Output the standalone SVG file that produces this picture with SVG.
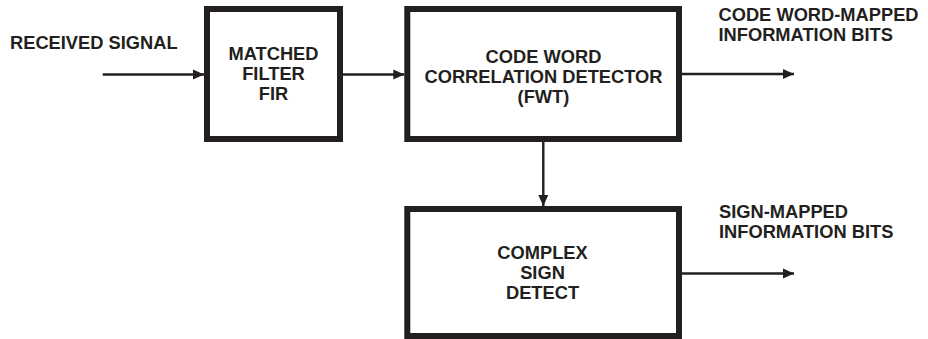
<svg xmlns="http://www.w3.org/2000/svg" width="928" height="339" viewBox="0 0 928 339">
<defs>
<style>
.box{fill:#ffffff;stroke:#231f20;stroke-width:6;}
.t{font-family:"Liberation Sans",Arial,Helvetica,sans-serif;font-weight:bold;font-size:18.3px;fill:#231f20;}
.c{text-anchor:middle;}
.ln{stroke:#231f20;stroke-width:2.4;fill:none;}
</style>
<marker id="ah" markerUnits="userSpaceOnUse" markerWidth="12" markerHeight="12" viewBox="0 0 12 12" refX="11" refY="6" orient="auto">
<polygon points="0,1 11,6 0,11" fill="#231f20"/>
</marker>
</defs>
<rect width="928" height="339" fill="#ffffff"/>
<text class="t" x="10" y="49.2">RECEIVED SIGNAL</text>
<text class="t" x="718.5" y="20.5">CODE WORD-MAPPED</text>
<text class="t" x="718.5" y="40.5">INFORMATION BITS</text>
<text class="t" x="719" y="218.2">SIGN-MAPPED</text>
<text class="t" x="719" y="238.2">INFORMATION BITS</text>
<g id="connectors">
<line class="ln" x1="102.7" y1="74.5" x2="204" y2="74.5" marker-end="url(#ah)"/>
<line class="ln" x1="343" y1="74.5" x2="404.3" y2="74.5" marker-end="url(#ah)"/>
<line class="ln" x1="675" y1="74" x2="794" y2="74" marker-end="url(#ah)"/>
<line class="ln" x1="543.3" y1="142" x2="543.3" y2="206" marker-end="url(#ah)"/>
<line class="ln" x1="675" y1="273.5" x2="794" y2="273.5" marker-end="url(#ah)"/>
</g>
<g id="matched-filter">
<rect class="box" x="207" y="9" width="133" height="130"/>
<text class="t c" x="273.5" y="59.8">MATCHED</text>
<text class="t c" x="273.5" y="80">FILTER</text>
<text class="t c" x="273.5" y="100.3">FIR</text>
</g>
<g id="correlation-detector">
<rect class="box" x="407.3" y="9" width="271.7" height="130"/>
<text class="t c" x="543.5" y="62.5">CODE WORD</text>
<text class="t c" x="543.5" y="82.5">CORRELATION DETECTOR</text>
<text class="t c" x="543.5" y="102.5">(FWT)</text>
</g>
<g id="complex-sign-detect">
<rect class="box" x="407.3" y="209" width="271.7" height="127"/>
<text class="t c" x="542.5" y="258.8">COMPLEX</text>
<text class="t c" x="542.5" y="278.8">SIGN</text>
<text class="t c" x="542.5" y="298.8">DETECT</text>
</g>
</svg>
